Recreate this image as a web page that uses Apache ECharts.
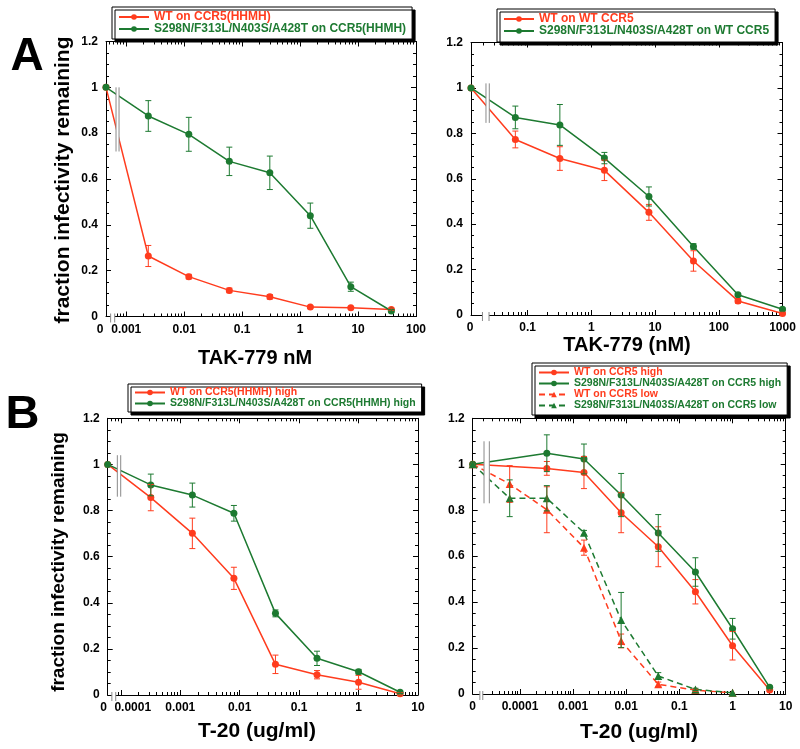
<!DOCTYPE html>
<html><head><meta charset="utf-8">
<script src="https://cdn.jsdelivr.net/npm/echarts@6/dist/echarts.min.js"></script>
<style>html,body{margin:0;padding:0;background:#fff}#c{width:800px;height:749px}</style>
</head><body><div id="c"></div>
<script>
// ---------------- DATA ----------------
// Panel A left: TAK-779 nM on CCR5(HHMH)
const a1Conc   = [0, 0.0024, 0.012, 0.06, 0.3, 1.5, 7.5, 37.5];
const a1Wt     = [1.0, 0.264, 0.174, 0.114, 0.086, 0.041, 0.038, 0.031];
const a1WtErr  = [0, 0.046, 0.01, 0.01, 0.01, 0.005, 0.005, 0.005];
const a1Mut    = [1.0, 0.875, 0.795, 0.677, 0.627, 0.44, 0.13, 0.024];
const a1MutErr = [0, 0.067, 0.074, 0.062, 0.073, 0.055, 0.02, 0.005];
const a1Ticks  = [0, 0.001, 0.01, 0.1, 1, 10, 100];
const a1Labels = ['0', '0.001', '0.01', '0.1', '1', '10', '100'];

// Panel A right: TAK-779 (nM) on WT CCR5
const a2Conc   = [0, 0.064, 0.32, 1.6, 8, 40, 200, 1000];
const a2Wt     = [1.0, 0.773, 0.689, 0.637, 0.452, 0.238, 0.062, 0.007];
const a2WtErr  = [0, 0.037, 0.052, 0.045, 0.035, 0.045, 0.01, 0.005];
const a2Mut    = [1.0, 0.87, 0.837, 0.691, 0.522, 0.302, 0.089, 0.025];
const a2MutErr = [0, 0.05, 0.09, 0.025, 0.042, 0.012, 0.006, 0.005];
const a2Ticks  = [0, 0.1, 1, 10, 100, 1000];
const a2Labels = ['0', '0.1', '1', '10', '100', '1000'];

// Panel B left: T-20 (ug/ml) on CCR5(HHMH) high
const b1Conc   = [0, 0.00032, 0.0016, 0.008, 0.04, 0.2, 1, 5];
const b1Wt     = [1.0, 0.856, 0.701, 0.506, 0.133, 0.088, 0.055, 0.005];
const b1WtErr  = [0, 0.057, 0.066, 0.048, 0.04, 0.018, 0.03, 0.005];
const b1Mut    = [1.0, 0.911, 0.867, 0.788, 0.354, 0.159, 0.101, 0.012];
const b1MutErr = [0, 0.047, 0.052, 0.034, 0.015, 0.031, 0.01, 0.005];
const b1Ticks  = [0, 0.0001, 0.001, 0.01, 0.1, 1, 10];
const b1Labels = ['0', '0.0001', '0.001', '0.01', '0.1', '1', '10'];

// Panel B right: T-20 (ug/ml) on CCR5 high / low
const b2ConcHigh  = [0, 0.00032, 0.0016, 0.008, 0.04, 0.2, 1, 5];
const b2WtHigh    = [1.0, 0.982, 0.964, 0.789, 0.641, 0.445, 0.21, 0.017];
const b2WtHighErr = [0, 0.03, 0.07, 0.087, 0.087, 0.053, 0.062, 0.005];
const b2MutHigh   = [1.0, 1.048, 1.023, 0.866, 0.701, 0.531, 0.284, 0.029];
const b2MutHighErr= [0, 0.08, 0.065, 0.094, 0.08, 0.062, 0.045, 0.005];
const b2ConcLow   = [0, 0.000064, 0.00032, 0.0016, 0.008, 0.04, 0.2, 1];
const b2WtLow     = [1.0, 0.914, 0.802, 0.637, 0.231, 0.042, 0.017, 0.005];
const b2WtLowErr  = [0, 0.08, 0.1, 0.033, 0.03, 0.01, 0.005, 0];
const b2MutLow    = [1.0, 0.852, 0.852, 0.702, 0.322, 0.078, 0.02, 0.005];
const b2MutLowErr = [0, 0.08, 0.055, 0.01, 0.12, 0.015, 0.005, 0];
const b2Ticks  = [0, 0.0001, 0.001, 0.01, 0.1, 1, 10];
const b2Labels = ['0', '0.0001', '0.001', '0.01', '0.1', '1', '10'];

// ---------------- STYLE / LAYOUT ----------------
const RED = '#ff3c1e', GREEN = '#1d7a31', GRAY = '#8a8a8a';
const FONT = '"Liberation Sans", Arial, Helvetica, sans-serif';

// x axis is log10 of concentration; zero is drawn at axis min (broken axis)
function lg(x, zero) { return x === 0 ? zero : Math.log10(x); }

const panels = [
  { grid: {left: 106, top: 41.5, width: 310, height: 275}, xmin: -3.35, xmax: 2,
    ticks: a1Ticks, labels: a1Labels, zeroPad: 12,
    brk: {dl: -3.177, dr: -3.125, y0: 0.72, y1: 1.0, al: -3.27, ar: -3.2} },
  { grid: {left: 471, top: 42.5, width: 311.5, height: 272.5}, xmin: -1.89, xmax: 3,
    ticks: a2Ticks, labels: a2Labels, zeroPad: 2,
    brk: {dl: -1.655, dr: -1.603, y0: 0.846, y1: 1.02, al: -1.71, ar: -1.607} },
  { grid: {left: 107.7, top: 418.3, width: 310.3, height: 276.7}, xmin: -4.22, xmax: 1,
    ticks: b1Ticks, labels: b1Labels, shiftLabel: 1, zeroPad: 8,
    brk: {dl: -4.058, dr: -4.001, y0: 0.86, y1: 1.04, al: -4.15, ar: -4.085} },
  { grid: {left: 472.7, top: 418.3, width: 313, height: 275.7}, xmin: -4.89, xmax: 1,
    ticks: b2Ticks, labels: b2Labels, zeroPad: 0,
    brk: {dl: -4.677, dr: -4.577, y0: 0.83, y1: 1.10, al: -4.755, ar: -4.70} }
];

const grids = [], xAxes = [], yAxes = [], series = [];

panels.forEach((p, g) => {
  grids.push(Object.assign({containLabel: false}, p.grid));
  const major = [], minor = [];
  for (let d = Math.ceil(p.xmin); d <= p.xmax + 1e-9; d++) major.push(d);
  for (let d = Math.floor(p.xmin); d < p.xmax; d++) {
    for (let k = 2; k <= 9; k++) {
      const v = d + Math.log10(k);
      if (v > p.brk.ar + 0.01 && v < p.xmax) minor.push(v);
    }
  }
  const minorTop = [];
  for (let d = Math.floor(p.xmin); d < p.xmax; d++) {
    for (let k = 2; k <= 9; k++) {
      const v = d + Math.log10(k);
      if (v > p.xmin + 0.03 && v < p.xmax) minorTop.push(v);
    }
  }
  const labelPos = p.ticks.map(t => lg(t, p.xmin));
  const fmt = (val) => {
    const i = labelPos.findIndex(q => Math.abs(q - val) < 1e-6);
    if (i < 0) return '';
    if (i === 0) return '{z|' + p.labels[i] + '}';
    return (p.shiftLabel === i) ? '{s|' + p.labels[i] + '}' : p.labels[i];
  };
  const base = {type: 'value', gridIndex: g, min: p.xmin, max: p.xmax, splitLine: {show: false},
    axisLine: {onZero: false, lineStyle: {color: '#000', width: 1}}};
  const lblStyle = {fontFamily: FONT, fontWeight: 'bold', fontSize: 12, color: '#000'};
  xAxes.push(Object.assign({}, base, {position: 'bottom',
    axisLine: {show: true, onZero: false, lineStyle: {color: '#000', width: 1}},
    axisTick: {show: true, inside: true, length: 5, customValues: major, lineStyle: {color: '#000'}},
    axisLabel: Object.assign({show: true, margin: 7, customValues: labelPos, formatter: fmt,
      showMinLabel: true, showMaxLabel: true,
      rich: {s: Object.assign({padding: [0, 0, 0, 24]}, lblStyle),
             z: Object.assign({padding: [0, p.zeroPad, 0, 0]}, lblStyle)}}, lblStyle)}));
  xAxes.push(Object.assign({}, base, {position: 'bottom', axisLine: {show: false, onZero: false},
    axisTick: {show: true, inside: true, length: 3, customValues: minor, lineStyle: {color: '#000'}},
    axisLabel: {show: false}}));
  xAxes.push(Object.assign({}, base, {position: 'top',
    axisLine: {show: true, onZero: false, lineStyle: {color: '#000', width: 1}},
    axisTick: {show: true, inside: true, length: 5, customValues: major, lineStyle: {color: '#000'}},
    axisLabel: {show: false}}));
  xAxes.push(Object.assign({}, base, {position: 'top', axisLine: {show: false, onZero: false},
    axisTick: {show: true, inside: true, length: 3, customValues: minorTop, lineStyle: {color: '#000'}},
    axisLabel: {show: false}}));
  const ybase = {type: 'value', gridIndex: g, min: 0, max: 1.2, interval: 0.2, splitLine: {show: false},
    axisLine: {show: true, onZero: false, lineStyle: {color: '#000', width: 1}},
    axisTick: {show: true, inside: true, length: 5, lineStyle: {color: '#000'}},
    minorTick: {show: true, splitNumber: 4, length: 3, lineStyle: {color: '#000'}}};
  yAxes.push(Object.assign({}, ybase, {position: 'left',
    axisLabel: Object.assign({show: true, margin: 8}, lblStyle)}));
  yAxes.push(Object.assign({}, ybase, {position: 'right', axisLabel: {show: false}}));
  p.xi = 4 * g; p.yi = 2 * g;
});

function lineSeries(p, name, xs, ys, color, dashed, symbol) {
  return {type: 'line', name: name, xAxisIndex: p.xi, yAxisIndex: p.yi, clip: false,
    data: xs.map((x, i) => [lg(x, p.xmin), ys[i]]),
    symbol: symbol || 'circle', symbolSize: symbol === 'triangle' ? 8 : 7,
    lineStyle: {color: color, width: 1.5, type: dashed ? [6, 4] : 'solid'},
    itemStyle: {color: color}, z: 2, animation: false};
}
function errSeries(p, xs, ys, es, color) {
  return {type: 'custom', xAxisIndex: p.xi, yAxisIndex: p.yi, silent: true, z: 3, animation: false,
    encode: {x: 0, y: 1},
    data: xs.map((x, i) => [lg(x, p.xmin), ys[i], es[i]]).filter(d => d[2] > 0),
    renderItem: (params, api) => {
      const x = api.value(0), y = api.value(1), e = api.value(2);
      const t = api.coord([x, y + e]), b = api.coord([x, y - e]);
      const w = 3, st = {stroke: color, lineWidth: 1};
      return {type: 'group', children: [
        {type: 'line', shape: {x1: t[0], y1: t[1], x2: b[0], y2: b[1]}, style: st},
        {type: 'line', shape: {x1: t[0] - w, y1: t[1], x2: t[0] + w, y2: t[1]}, style: st},
        {type: 'line', shape: {x1: b[0] - w, y1: b[1], x2: b[0] + w, y2: b[1]}, style: st}
      ]};
    }};
}
function breakSeries(p) {
  const k = p.brk;
  return {type: 'custom', xAxisIndex: p.xi, yAxisIndex: p.yi, silent: true, z: 6, animation: false,
    encode: {x: 0, y: 2},
    data: [[k.dl, k.dr, k.y0, k.y1, k.al, k.ar]],
    renderItem: (params, api) => {
      const a = api.coord([api.value(0), api.value(3)]);
      const c = api.coord([api.value(1), api.value(2)]);
      const l = api.coord([api.value(4), 0]);
      const r = api.coord([api.value(5), 0]);
      const st = {stroke: GRAY, lineWidth: 1};
      return {type: 'group', children: [
        {type: 'rect', shape: {x: a[0], y: a[1], width: c[0] - a[0], height: c[1] - a[1]}, style: {fill: '#fff'}},
        {type: 'line', shape: {x1: a[0], y1: a[1], x2: a[0], y2: c[1]}, style: st},
        {type: 'line', shape: {x1: c[0], y1: a[1], x2: c[0], y2: c[1]}, style: st},
        {type: 'rect', shape: {x: l[0], y: l[1] - 1.5, width: r[0] - l[0], height: 3}, style: {fill: '#fff'}},
        {type: 'line', shape: {x1: l[0], y1: l[1] - 3, x2: l[0], y2: l[1] + 6}, style: st},
        {type: 'line', shape: {x1: r[0], y1: r[1] - 3, x2: r[0], y2: r[1] + 6}, style: st}
      ]};
    }};
}

const P = panels;
const n = {
  a1w: 'WT on CCR5(HHMH)', a1m: 'S298N/F313L/N403S/A428T on CCR5(HHMH)',
  a2w: 'WT on WT CCR5', a2m: 'S298N/F313L/N403S/A428T on WT CCR5',
  b1w: 'WT on CCR5(HHMH) high', b1m: 'S298N/F313L/N403S/A428T on CCR5(HHMH) high',
  b2wh: 'WT on CCR5 high', b2mh: 'S298N/F313L/N403S/A428T on CCR5 high',
  b2wl: 'WT on CCR5 low', b2ml: 'S298N/F313L/N403S/A428T on CCR5 low'
};
series.push(
  errSeries(P[0], a1Conc, a1Wt, a1WtErr, RED), errSeries(P[0], a1Conc, a1Mut, a1MutErr, GREEN),
  lineSeries(P[0], n.a1w, a1Conc, a1Wt, RED), lineSeries(P[0], n.a1m, a1Conc, a1Mut, GREEN),
  breakSeries(P[0]),
  errSeries(P[1], a2Conc, a2Wt, a2WtErr, RED), errSeries(P[1], a2Conc, a2Mut, a2MutErr, GREEN),
  lineSeries(P[1], n.a2w, a2Conc, a2Wt, RED), lineSeries(P[1], n.a2m, a2Conc, a2Mut, GREEN),
  breakSeries(P[1]),
  errSeries(P[2], b1Conc, b1Wt, b1WtErr, RED), errSeries(P[2], b1Conc, b1Mut, b1MutErr, GREEN),
  lineSeries(P[2], n.b1w, b1Conc, b1Wt, RED), lineSeries(P[2], n.b1m, b1Conc, b1Mut, GREEN),
  breakSeries(P[2]),
  errSeries(P[3], b2ConcHigh, b2WtHigh, b2WtHighErr, RED), errSeries(P[3], b2ConcHigh, b2MutHigh, b2MutHighErr, GREEN),
  errSeries(P[3], b2ConcLow, b2WtLow, b2WtLowErr, RED), errSeries(P[3], b2ConcLow, b2MutLow, b2MutLowErr, GREEN),
  lineSeries(P[3], n.b2wh, b2ConcHigh, b2WtHigh, RED), lineSeries(P[3], n.b2mh, b2ConcHigh, b2MutHigh, GREEN),
  lineSeries(P[3], n.b2wl, b2ConcLow, b2WtLow, RED, true, 'triangle'),
  lineSeries(P[3], n.b2ml, b2ConcLow, b2MutLow, GREEN, true, 'triangle'),
  breakSeries(P[3])
);

function legend(left, top, items, fs, lh, pad) {
  return {left: left, top: top, orient: 'vertical', itemWidth: 30, itemHeight: 7, itemGap: 0,
    padding: pad, backgroundColor: '#fff', borderColor: '#000', borderWidth: 1,
    shadowColor: '#000', shadowOffsetX: 3, shadowOffsetY: 3, shadowBlur: 0, selectedMode: false,
    textStyle: {fontFamily: FONT, fontWeight: 'bold', fontSize: fs, lineHeight: lh},
    data: items.map(it => ({name: it[0], textStyle: {color: it[1]}}))};
}

const txt = (t, x, y, size, rot) => ({type: 'text', x: x, y: y, rotation: rot || 0, z: 100,
  style: {text: t, font: 'bold ' + size + 'px ' + FONT, fill: '#000',
    align: 'center', verticalAlign: 'middle', textAlign: 'center', textVerticalAlign: 'middle'}});

const option = {
  animation: false,
  backgroundColor: '#fff',
  grid: grids, xAxis: xAxes, yAxis: yAxes, series: series,
  legend: [
    legend(112, 7, [[n.a1w, RED], [n.a1m, GREEN]], 12, 10, [4, 6, 4, 6]),
    legend(497, 9, [[n.a2w, RED], [n.a2m, GREEN]], 12, 10, [4, 6, 5, 6]),
    legend(128, 384, [[n.b1w, RED], [n.b1m, GREEN]], 10.5, 11, [3, 6, 3, 6]),
    legend(532, 363, [[n.b2wh, RED], [n.b2mh, GREEN], [n.b2wl, RED], [n.b2ml, GREEN]], 10.5, 10.5, [4, 6, 4, 6])
  ],
  graphic: [
    txt('A', 27, 57, 46), txt('B', 22.5, 415, 47),
    txt('fraction infectivity remaining', 63, 180, 21, Math.PI / 2),
    txt('fraction infectivity remaining', 58.5, 562, 19, Math.PI / 2),
    txt('TAK-779 nM', 255, 358, 20), txt('TAK-779 (nM)', 627, 345, 20),
    txt('T-20 (ug/ml)', 257, 731, 21), txt('T-20 (ug/ml)', 639, 732, 21)
  ]
};
const chart = echarts.init(document.getElementById('c'), null, {renderer: 'canvas'});
chart.setOption(option);
</script></body></html>
